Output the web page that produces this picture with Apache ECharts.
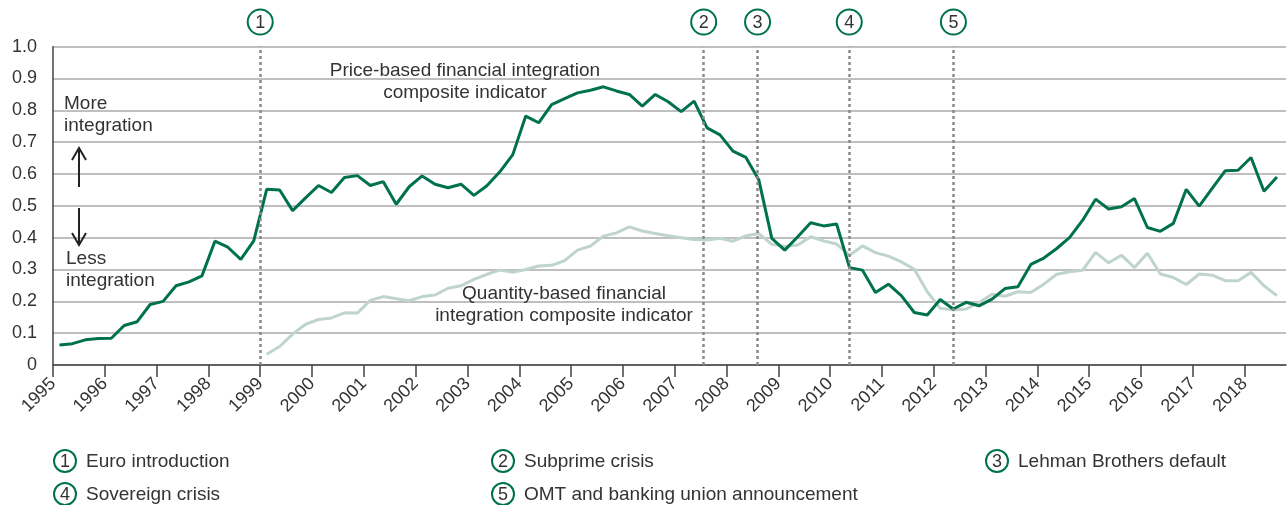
<!DOCTYPE html>
<html>
<head>
<meta charset="utf-8">
<title>Financial integration composite indicators</title>
<script src="https://cdn.jsdelivr.net/npm/echarts@6/dist/echarts.min.js"></script>
<style>
  html, body { margin: 0; padding: 0; background: #fff; }
  #chart { width: 1287px; height: 505px; }
</style>
</head>
<body>
<div id="chart"></div>
<script>
// quarterly data, first point = 1995 Q1
var startYear = 1995;
var years = [1995, 1996, 1997, 1998, 1999, 2000, 2001, 2002, 2003, 2004, 2005, 2006,
             2007, 2008, 2009, 2010, 2011, 2012, 2013, 2014, 2015, 2016, 2017, 2018];
var yTicks = [0, 0.1, 0.2, 0.3, 0.4, 0.5, 0.6, 0.7, 0.8, 0.9, 1.0];

// price-based indicator, 1995 Q1 .. 2018 Q3
var priceBased = [
  0.063, 0.067, 0.079, 0.083,
  0.084, 0.124, 0.136, 0.190,
  0.200, 0.249, 0.261, 0.280,
  0.389, 0.370, 0.332, 0.390,
  0.552, 0.550, 0.485, 0.525,
  0.564, 0.542, 0.589, 0.595,
  0.564, 0.576, 0.505, 0.560,
  0.594, 0.568, 0.557, 0.568,
  0.533, 0.563, 0.607, 0.661,
  0.782, 0.761, 0.818, 0.837,
  0.855, 0.863, 0.874, 0.861,
  0.850, 0.813, 0.850, 0.827,
  0.796, 0.829, 0.745, 0.723,
  0.672, 0.652, 0.581, 0.398,
  0.361, 0.403, 0.447, 0.437,
  0.443, 0.306, 0.298, 0.228,
  0.254, 0.218, 0.165, 0.157,
  0.206, 0.176, 0.197, 0.186,
  0.207, 0.240, 0.246, 0.316,
  0.336, 0.366, 0.401, 0.455,
  0.521, 0.490, 0.497, 0.523,
  0.432, 0.420, 0.445, 0.552,
  0.499, 0.555, 0.610, 0.612,
  0.652, 0.546, 0.591
];

// quantity-based indicator, starts 1999 Q1
var quantityStart = 16;
var quantityBased = [
  0.034, 0.058, 0.097, 0.128,
  0.143, 0.148, 0.164, 0.163,
  0.203, 0.215, 0.208, 0.202,
  0.215, 0.220, 0.241, 0.249,
  0.269, 0.285, 0.298, 0.291,
  0.300, 0.311, 0.313, 0.328,
  0.361, 0.374, 0.405, 0.415,
  0.434, 0.421, 0.413, 0.406,
  0.400, 0.394, 0.393, 0.398,
  0.389, 0.406, 0.413, 0.379,
  0.372, 0.377, 0.403, 0.390,
  0.380, 0.345, 0.374, 0.353,
  0.342, 0.324, 0.301, 0.230,
  0.178, 0.173, 0.176, 0.196,
  0.222, 0.216, 0.230, 0.228,
  0.254, 0.285, 0.293, 0.298,
  0.354, 0.321, 0.345, 0.306,
  0.351, 0.286, 0.275, 0.253,
  0.286, 0.282, 0.265, 0.265,
  0.291, 0.249, 0.218
];

// events (dotted lines)
var eventNums = ['1', '2', '3', '4', '5'];
var eventDates = [1999.0, 2007.56, 2008.6, 2010.37, 2012.38];
var eventNames = ['Euro introduction', 'Subprime crisis', 'Lehman Brothers default',
                  'Sovereign crisis', 'OMT and banking union announcement'];

var GREEN = '#00714f';
var LIGHT = '#bfd4cb';
var TXT = '#333333';
var FONT = '"Liberation Sans", Arial, Helvetica, sans-serif';

function qx(i) { return startYear + (i + 0.5) / 4; }

var priceData = priceBased.map(function (v, i) { return [qx(i), v]; });
var quantityData = quantityBased.map(function (v, i) { return [qx(i + quantityStart), v]; });

var chart = echarts.init(document.getElementById('chart'));

chart.setOption({
  animation: false,
  backgroundColor: '#fff',
  grid: { left: 53, right: 1, top: 46.7, bottom: 140 },
  xAxis: {
    type: 'value',
    min: 1995,
    max: 2018.8,
    interval: 1,
    axisLine: { show: true, onZero: false, lineStyle: { color: '#444', width: 1.5 } },
    axisTick: { show: true, length: 12, customValues: years, lineStyle: { color: '#444', width: 1.5 } },
    axisLabel: {
      customValues: years,
      rotate: 45,
      margin: 16,
      color: TXT,
      fontFamily: FONT,
      fontSize: 18,
      formatter: function (v) { return String(Math.round(v)); }
    },
    splitLine: { show: false }
  },
  yAxis: {
    type: 'value',
    min: 0,
    max: 1,
    interval: 0.1,
    axisLine: { show: true, lineStyle: { color: '#444', width: 1.5 } },
    axisTick: { show: false },
    axisLabel: {
      margin: 16,
      color: TXT,
      fontFamily: FONT,
      fontSize: 18,
      formatter: function (v) { return v === 0 ? '0' : v.toFixed(1); }
    },
    splitLine: { show: true, lineStyle: { color: '#aaaaaa', width: 1.5 } }
  },
  series: [
    {
      name: 'Quantity-based',
      type: 'line',
      data: quantityData,
      showSymbol: false,
      lineStyle: { color: LIGHT, width: 3 },
      z: 2
    },
    {
      name: 'Price-based',
      type: 'line',
      data: priceData,
      showSymbol: false,
      lineStyle: { color: GREEN, width: 3 },
      z: 3,
      markLine: {
        silent: true,
        symbol: 'none',
        label: { show: false },
        lineStyle: { color: '#8a8a8a', width: 2.5, type: [3, 3] },
        data: eventDates.map(function (d) { return { xAxis: d }; })
      }
    }
  ]
});

// annotations & legend, placed after layout
var g = [];
function circle(cx, cy, r, num) {
  g.push({
    type: 'circle', shape: { cx: cx, cy: cy, r: r },
    style: { fill: '#fff', stroke: GREEN, lineWidth: 2 }, z: 10
  });
  g.push({
    type: 'text', x: cx, y: cy + 1, z: 11,
    style: { text: num, fill: TXT, font: '18px ' + FONT, align: 'center', verticalAlign: 'middle' }
  });
}
function label(x, y, text, align) {
  g.push({
    type: 'text', x: x, y: y, z: 11,
    style: { text: text, fill: TXT, font: '19px ' + FONT, align: align || 'left', verticalAlign: 'top', lineHeight: 22 }
  });
}

eventDates.forEach(function (d, i) {
  var px = chart.convertToPixel({ gridIndex: 0 }, [d, 1])[0];
  circle(px, 22, 12.5, eventNums[i]);
});

label(465, 60, 'Price-based financial integration\ncomposite indicator', 'center');
label(564, 283, 'Quantity-based financial\nintegration composite indicator', 'center');
label(64, 93, 'More\nintegration');
label(66, 248, 'Less\nintegration');

// arrows
g.push({ type: 'polyline', shape: { points: [[79, 187], [79, 148]] }, style: { stroke: '#222', lineWidth: 2, fill: null } });
g.push({ type: 'polyline', shape: { points: [[72, 160], [79, 148], [86, 160]] }, style: { stroke: '#222', lineWidth: 2, fill: null } });
g.push({ type: 'polyline', shape: { points: [[79, 208], [79, 245]] }, style: { stroke: '#222', lineWidth: 2, fill: null } });
g.push({ type: 'polyline', shape: { points: [[72, 233], [79, 245], [86, 233]] }, style: { stroke: '#222', lineWidth: 2, fill: null } });

// legend of events
var legendPos = [[65, 461], [503, 461], [997, 461], [65, 494], [503, 494]];
legendPos.forEach(function (p, i) {
  circle(p[0], p[1], 11, eventNums[i]);
  g.push({
    type: 'text', x: p[0] + 21, y: p[1] + 1, z: 11,
    style: { text: eventNames[i], fill: TXT, font: '19px ' + FONT, align: 'left', verticalAlign: 'middle' }
  });
});

chart.setOption({ graphic: g });
</script>
</body>
</html>
